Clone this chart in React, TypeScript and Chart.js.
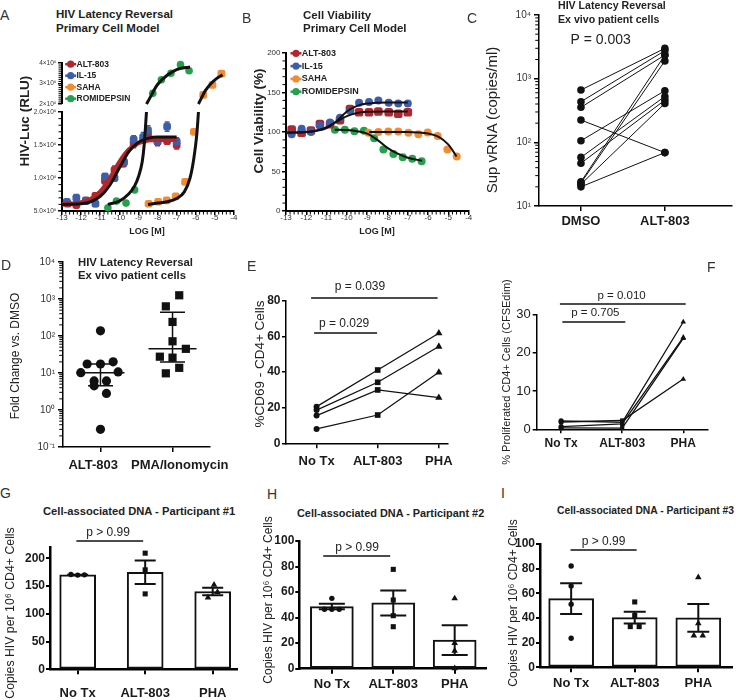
import React, { useEffect, useRef } from 'react';
import { Chart, registerables } from 'chart.js';

Chart.register(...registerables);

const FONT = '"Liberation Sans", Arial, Helvetica, sans-serif';
Chart.defaults.font.family = FONT;

const RED = '#b3262e';
const BLUE = '#3d5da9';
const ORANGE = '#f38b30';
const GREEN = '#25a04c';
const INK = '#111111';

// ---------------- Panel A : HIV latency reversal, primary cell model ----------------
const A_SERIES = ['ALT-803', 'IL-15', 'SAHA', 'ROMIDEPSIN'];
const A_ALT_X = [-12.7, -12.25, -11.75, -11.25, -10.75, -10.25, -9.8, -9.25, -8.75, -8.5, -8.0, -7.5, -7.0];
const A_ALT_Y = [6.1e5, 5.9e5, 6.6e5, 7.3e5, 9.6e5, 1.12e6, 1.22e6, 1.52e6, 1.58e6, 1.66e6, 1.55e6, 1.56e6, 1.5e6];
const A_ALT_ERR = [3e4, 3e4, 4e4, 4e4, 5e4, 6e4, 5e4, 6e4, 5e4, 6e4, 6e4, 5e4, 6e4];
const A_IL15_X = [-12.75, -12.25, -11.75, -11.25, -10.75, -10.25, -9.75, -9.25, -8.75, -8.5, -8.0, -7.5, -7.0];
const A_IL15_Y = [6.4e5, 7.0e5, 6.5e5, 6.1e5, 1.02e6, 1.0e6, 1.24e6, 1.58e6, 1.62e6, 1.72e6, 1.56e6, 1.78e6, 1.55e6];
const A_IL15_ERR = [3e4, 5e4, 3e4, 4e4, 5e4, 5e4, 6e4, 6e4, 7e4, 7e4, 6e4, 7e4, 6e4];
const A_SAHA_X = [-8.47, -7.97, -7.52, -7.05, -6.56, -6.1, -5.61, -5.13, -4.66];
const A_SAHA_Y = [6.1e5, 6.4e5, 6.6e5, 7.2e5, 9.4e5, 1.7e6, 2.44e6, 2.93e6, 3.48e6];
const A_ROMI_X = [-10.6, -10.15, -9.65, -9.2, -8.25, -7.8, -7.3, -6.8, -6.35];
const A_ROMI_Y = [5.5e5, 6.5e5, 6.2e5, 8.2e5, 2.52e6, 3.18e6, 3.5e6, 3.92e6, 3.62e6];
// fitted curves
const A_FIT_ALT_X = [-13, -12, -11.5, -11, -10.5, -10, -9.5, -9, -8.5, -8, -7];
const A_FIT_ALT_Y = [6.0e5, 6.3e5, 6.8e5, 7.9e5, 9.9e5, 1.24e6, 1.43e6, 1.53e6, 1.57e6, 1.58e6, 1.58e6];
const A_FIT_IL15_X = [-13, -12, -11.5, -11, -10.5, -10, -9.5, -9, -8.5, -8, -7];
const A_FIT_IL15_Y = [6.0e5, 6.1e5, 6.4e5, 7.2e5, 8.9e5, 1.15e6, 1.4e6, 1.54e6, 1.6e6, 1.62e6, 1.62e6];
const A_FIT_SAHA_X = [-8.5, -8, -7.5, -7, -6.6, -6.3, -6.1, -5.95, -5.86, -5.7, -5.5, -5.2, -4.9, -4.6];
const A_FIT_SAHA_Y = [6.0e5, 6.2e5, 6.4e5, 6.9e5, 7.9e5, 1.0e6, 1.3e6, 1.65e6, 2.0e6, 2.3e6, 2.65e6, 3.0e6, 3.25e6, 3.42e6];
const A_FIT_ROMI_X = [-10.6, -10, -9.5, -9.2, -9, -8.8, -8.7, -8.58, -8.4, -8.2, -8, -7.5, -7, -6.5, -6.3];
const A_FIT_ROMI_Y = [6.0e5, 6.5e5, 7.6e5, 8.8e5, 1.02e6, 1.25e6, 1.5e6, 2.0e6, 2.3e6, 2.65e6, 2.95e6, 3.4e6, 3.68e6, 3.78e6, 3.8e6];
const A_BREAK = 2e6;
const A_Y_LOW_TICKS = [5e5, 1e6, 1.5e6, 2e6];
const A_Y_LOW_LABELS = ['5.0×10⁵', '1.0×10⁶', '1.5×10⁶', '2.0×10⁶'];
const A_Y_UP_TICKS = [2e6, 3e6, 4e6];
const A_Y_UP_LABELS = ['2×10⁶', '3×10⁶', '4×10⁶'];

const LOG_TICKS = [-13, -12, -11, -10, -9, -8, -7, -6, -5, -4];
const LOG_LABELS = ['-13', '-12', '-11', '-10', '-9', '-8', '-7', '-6', '-5', '-4'];

// ---------------- Panel B : cell viability ----------------
const B_ALT_X = [-12.72, -12.23, -11.77, -11.33, -10.83, -10.34, -9.85, -9.4, -8.91, -8.45, -7.94, -7.47, -7.0];
const B_ALT_Y = [103, 99, 102, 110, 110, 115, 129, 125, 125, 126, 125, 123, 125];
const B_IL15_X = [-12.72, -12.23, -11.77, -11.33, -10.83, -10.34, -9.85, -9.4, -8.91, -8.45, -7.94, -7.47, -7.0];
const B_IL15_Y = [97, 104, 100, 108, 112, 118, 127, 137, 138, 140, 137, 136, 136];
const B_SAHA_X = [-8.94, -8.45, -7.96, -7.47, -6.97, -6.48, -6.02, -5.53, -5.05, -4.59];
const B_SAHA_Y = [99, 100, 100.5, 100.5, 99, 97, 99.5, 95, 78, 69];
const B_ROMI_X = [-10.59, -10.1, -9.63, -9.16, -8.66, -8.2, -7.71, -7.25, -6.78, -6.32];
const B_ROMI_Y = [103, 103, 101, 101.5, 92, 78, 72, 68, 66, 63];
const B_FIT_ALT_X = [-13, -12, -11.5, -11, -10.5, -10, -9.5, -9, -8, -7];
const B_FIT_ALT_Y = [99, 100, 102, 106, 113, 120, 124, 125.5, 126, 126];
const B_FIT_IL15_X = [-13, -12, -11.5, -11, -10.5, -10, -9.5, -9, -8, -7];
const B_FIT_IL15_Y = [99, 100, 101.5, 105, 114, 126, 133, 136, 137.5, 137.5];
const B_FIT_ROMI_X = [-10.6, -10, -9.5, -9, -8.5, -8, -7.5, -7, -6.3];
const B_FIT_ROMI_Y = [103, 102.5, 101, 98, 90, 80, 72.5, 67.5, 63.5];
const B_FIT_SAHA_X = [-8.9, -8, -7, -6.5, -6, -5.5, -5, -4.6];
const B_FIT_SAHA_Y = [100, 100, 100, 99.5, 98, 94, 84, 69];
const B_Y_TICKS = [0, 50, 100, 150, 200];
const B_Y_LABELS = ['0', '50', '100', '150', '200'];

// ---------------- Panel C : sup vRNA, paired ----------------
const C_CATS = ['DMSO', 'ALT-803'];
const C_DMSO = [664, 435, 355, 224, 106, 58, 47, 24, 23, 22, 20];
const C_ALT = [2990, 2750, 2350, 69, 647, 526, 460, 2350, 1900, 408, 69];
const C_Y_TICKS = [10, 100, 1000, 10000];
const C_Y_LABELS = ['10¹', '10²', '10³', '10⁴'];

// ---------------- Panel D : fold change ----------------
// the two category labels sit slightly apart from their ticks in the original (padding spaces)
const D_CATS = ['ALT-803    ', '    PMA/Ionomycin'];
const D_ALT = [138, 17.5, 17.5, 20, 10.2, 10.7, 6.1, 6.1, 4.5, 2.8, 0.3];
const D_PMA = [1260, 633, 240, 72, 45, 27.6, 26, 13.8, 9.8];
const D_Y_TICKS = [0.1, 1, 10, 100, 1000, 10000];
const D_Y_LABELS = ['10⁻¹', '10⁰', '10¹', '10²', '10³', '10⁴'];
// horizontal scatter offsets of the dots (layout only)
const D_ALT_JIT = [0, -0.185, 0, 0.176, -0.273, 0.245, -0.088, 0.083, -0.088, 0.083, 0];
const D_PMA_JIT = [0.093, -0.093, 0, 0, 0.185, -0.176, 0, 0.093, -0.093];

// ---------------- Panel E : %CD69 ----------------
const TX_CATS = ['No Tx', 'ALT-803', 'PHA'];
const E_NOTX = [20.6, 18.7, 15.6, 8.1];
const E_ALT = [41.2, 34.3, 30.0, 15.9];
const E_PHA = [61.9, 54.4, 25.7, 39.9];
const E_Y_TICKS = [0, 20, 40, 60, 80];
const E_Y_LABELS = ['0', '20', '40', '60', '80'];

// ---------------- Panel F : proliferation ----------------
const F_NOTX = [2.2, 1.9, 0.7, 0.35];
const F_ALT = [1.8, 2.3, 1.4, 0.3];
const F_PHA = [28.0, 13.1, 24.0, 23.7];
const F_Y_TICKS = [0, 10, 20, 30];
const F_Y_LABELS = ['0', '10', '20', '30'];

// ---------------- Panels G, H, I : cell-associated DNA ----------------
const G_NOTX = [171, 170, 170.5];
const G_ALT = [209.6, 179.5, 136.1];
const G_PHA = [152.4, 139.2, 129.5];
const G_Y_TICKS = [0, 50, 100, 150, 200];
const G_Y_LABELS = ['0', '50', '100', '150', '200'];
const H_NOTX = [55.1, 46.5, 46.5, 46.5];
const H_ALT = [77.8, 53.8, 41.5, 32.9];
const H_PHA = [55, 20, 14, 0.3];
const I_NOTX = [82.2, 66, 51.1, 23.5];
const I_ALT = [53, 42, 33, 33];
const I_PHA = [73, 35.7, 25.7, 25.7];
const HI_Y_TICKS = [0, 20, 40, 60, 80, 100];
const HI_Y_LABELS = ['0', '20', '40', '60', '80', '100'];
const G_JIT = [[-0.1, 0, 0.1], [0, 0, 0], [0.02, 0.07, -0.07]];
const H_JIT = [[0, -0.12, 0, 0.12], [0, 0, 0, 0], [0, 0, 0, 0]];
const I_JIT = [[0, 0, 0, 0], [0, 0, -0.07, 0.07], [0, 0, -0.07, 0.07]];

// ---------------- helpers ----------------
const mean = (a: number[]) => a.reduce((s, v) => s + v, 0) / a.length;
const sem = (a: number[]) => {
  const m = mean(a);
  return Math.sqrt(a.reduce((s, v) => s + (v - m) * (v - m), 0) / (a.length - 1)) / Math.sqrt(a.length);
};
const quantile = (a: number[], p: number) => {
  const s = [...a].sort((x, y) => x - y);
  const pos = (s.length + 1) * p - 1;
  const lo = Math.max(0, Math.floor(pos));
  const f = pos - lo;
  return s[lo] + (s[Math.min(lo + 1, s.length - 1)] - s[lo]) * f;
};
function stepMinor(min: number, max: number, step: number, major: number) {
  const out: number[] = [];
  const n = Math.round((max - min) / step);
  for (let i = 0; i <= n; i++) {
    const v = min + i * step;
    const q = v / major;
    if (Math.abs(q - Math.round(q)) > 1e-6) out.push(v);
  }
  return out;
}
function logMinor(lo: number, hi: number) {
  const out: number[] = [];
  for (let k = lo; k < hi; k++) for (let m = 2; m <= 9; m++) out.push(m * Math.pow(10, k));
  return out;
}

type AxisOpt = {
  pos: 'left' | 'bottom';
  type?: 'linear' | 'logarithmic';
  min: number;
  max: number;
  size: number;
  ticks: number[];
  labels: string[];
  fontSize: number;
  bold?: boolean;
  tickLen: number;
  pad: number;
  bw: number;
  color?: string;
  stack?: string;
  stackWeight?: number;
  showBorder?: boolean;
  tw?: number;
};
function axis(o: AxisOpt): any {
  const a: any = {
    type: o.type ?? 'linear',
    position: o.pos,
    min: o.min,
    max: o.max,
    offset: false,
    grid: {
      display: true,
      offset: false,
      drawOnChartArea: false,
      drawTicks: true,
      tickLength: o.tickLen,
      tickColor: '#000',
      tickWidth: o.tw ?? 1.5,
      color: '#000',
      lineWidth: o.tw ?? 1.5,
    },
    border: { display: o.showBorder ?? true, color: '#000', width: o.bw },
    ticks: {
      autoSkip: false,
      maxRotation: 0,
      minRotation: 0,
      padding: o.pad,
      color: o.color ?? '#1a1a1a',
      font: { family: FONT, size: o.fontSize, weight: o.bold ? 'bold' : 'normal' },
      callback: (_v: any, i: number) => o.labels[i] ?? '',
    },
    afterBuildTicks: (s: any) => {
      s.ticks = o.ticks.map((v) => ({ value: v }));
    },
    afterFit: (s: any) => {
      if (o.pos === 'bottom') s.height = o.size;
      else s.width = o.size;
      s.paddingLeft = 0;
      s.paddingRight = 0;
      s.paddingTop = 0;
      s.paddingBottom = 0;
    },
  };
  if (o.stack) {
    a.stack = o.stack;
    a.stackWeight = o.stackWeight;
  }
  return a;
}

function baseOptions(padTop: number, padRight: number, scales: any) {
  return {
    responsive: false,
    animation: false,
    devicePixelRatio: 1,
    events: [],
    layout: { padding: { top: padTop, right: padRight, left: 0, bottom: 0 } },
    plugins: { legend: { display: false }, tooltip: { enabled: false }, title: { display: false } },
    scales,
  };
}

// ---------- plugins ----------
function minorTicksPlugin(specs: { id: string; values: number[]; len: number; off: number; lw?: number }[]) {
  return {
    id: 'minorTicks',
    afterDraw(chart: any) {
      const ctx = chart.ctx;
      ctx.save();
      ctx.strokeStyle = '#000';
      for (const sp of specs) {
        const s = chart.scales[sp.id];
        if (!s) continue;
        ctx.lineWidth = sp.lw ?? 1;
        ctx.beginPath();
        for (const v of sp.values) {
          if (v < s.min - 1e-9 || v > s.max + 1e-9) continue;
          const p = s.getPixelForValue(v);
          if (s.isHorizontal()) {
            const y0 = s.top + sp.off;
            ctx.moveTo(p, y0);
            ctx.lineTo(p, y0 + sp.len);
          } else {
            const x0 = s.right - sp.off;
            ctx.moveTo(x0, p);
            ctx.lineTo(x0 - sp.len, p);
          }
        }
        ctx.stroke();
      }
      ctx.restore();
    },
  };
}

type Ann = { x1?: number; x2?: number; y: number; text: string; tx: number; dy: number; size: number; lw?: number };
function annotPlugin(items: Ann[]) {
  return {
    id: 'annot',
    afterDraw(chart: any) {
      const { ctx, scales } = chart;
      const xs = scales.x;
      const ys = scales.y;
      ctx.save();
      for (const it of items) {
        const py = ys.getPixelForValue(it.y);
        if (it.x1 !== undefined && it.x2 !== undefined) {
          ctx.strokeStyle = INK;
          ctx.lineWidth = it.lw ?? 1.5;
          ctx.beginPath();
          ctx.moveTo(xs.getPixelForValue(it.x1), py);
          ctx.lineTo(xs.getPixelForValue(it.x2), py);
          ctx.stroke();
        }
        ctx.fillStyle = '#222';
        ctx.font = `${it.size}px ${FONT}`;
        ctx.textAlign = 'center';
        ctx.textBaseline = 'middle';
        ctx.fillText(it.text, xs.getPixelForValue(it.tx), py - it.dy);
      }
      ctx.restore();
    },
  };
}

function summaryPlugin(groups: { x: number; mid: number; lo: number; hi: number }[], midW: number, capW: number, lw: number) {
  return {
    id: 'summary',
    afterDatasetsDraw(chart: any) {
      const { ctx } = chart;
      const xs = chart.scales.x;
      const ys = chart.scales.y;
      ctx.save();
      ctx.strokeStyle = INK;
      ctx.lineWidth = lw;
      for (const g of groups) {
        const px = xs.getPixelForValue(g.x);
        const pm = ys.getPixelForValue(g.mid);
        const pl = ys.getPixelForValue(g.lo);
        const ph = ys.getPixelForValue(g.hi);
        ctx.beginPath();
        ctx.moveTo(px, pl);
        ctx.lineTo(px, ph);
        ctx.moveTo(px - capW / 2, pl);
        ctx.lineTo(px + capW / 2, pl);
        ctx.moveTo(px - capW / 2, ph);
        ctx.lineTo(px + capW / 2, ph);
        if (midW) {
          ctx.moveTo(px - midW / 2, pm);
          ctx.lineTo(px + midW / 2, pm);
        }
        ctx.stroke();
      }
      ctx.restore();
    },
  };
}

const errorPlugin = {
  id: 'pointErrors',
  beforeDatasetsDraw(chart: any) {
    const ctx = chart.ctx;
    ctx.save();
    chart.data.datasets.forEach((d: any, i: number) => {
      if (!d.errColor) return;
      const meta = chart.getDatasetMeta(i);
      const ys = chart.scales[meta.yAxisID];
      ctx.strokeStyle = d.errColor;
      ctx.lineWidth = 1.5;
      d.data.forEach((p: any, j: number) => {
        if (!p.e) return;
        const el = meta.data[j];
        if (!el) return;
        const y1 = ys.getPixelForValue(p.y + p.e);
        const y2 = ys.getPixelForValue(p.y - p.e);
        ctx.beginPath();
        ctx.moveTo(el.x, y1);
        ctx.lineTo(el.x, y2);
        ctx.moveTo(el.x - 2.5, y1);
        ctx.lineTo(el.x + 2.5, y1);
        ctx.moveTo(el.x - 2.5, y2);
        ctx.lineTo(el.x + 2.5, y2);
        ctx.stroke();
      });
    });
    ctx.restore();
  },
};

function legendPlugin(items: { label: string; color: string }[], o: { dx: number; dy: number; gap: number; tdx: number; size: number }) {
  return {
    id: 'miniLegend',
    afterDraw(chart: any) {
      const { ctx, chartArea } = chart;
      ctx.save();
      ctx.font = `bold ${o.size}px ${FONT}`;
      ctx.textBaseline = 'middle';
      ctx.textAlign = 'left';
      items.forEach((it, i) => {
        const cx = chartArea.left + o.dx;
        const cy = chartArea.top + o.dy + i * o.gap;
        ctx.strokeStyle = it.color;
        ctx.lineWidth = 2.5;
        ctx.beginPath();
        ctx.moveTo(cx - 5.5, cy);
        ctx.lineTo(cx + 5.5, cy);
        ctx.stroke();
        ctx.fillStyle = it.color;
        ctx.beginPath();
        ctx.arc(cx, cy, 3.6, 0, Math.PI * 2);
        ctx.fill();
        ctx.fillStyle = '#222';
        ctx.fillText(it.label, chartArea.left + o.tdx, cy);
      });
      ctx.restore();
    },
  };
}

const A_UP_MIN_VISIBLE = 2e6;
const upperAxisPlugin = {
  id: 'upperAxis',
  afterDraw(chart: any) {
    const s = chart.scales.y2;
    if (!s) return;
    const ctx = chart.ctx;
    const x = chart.chartArea.left;
    ctx.save();
    ctx.strokeStyle = '#000';
    ctx.lineWidth = 2;
    ctx.beginPath();
    ctx.moveTo(x, s.getPixelForValue(A_UP_MIN_VISIBLE));
    ctx.lineTo(x, s.getPixelForValue(4e6) - 1);
    ctx.stroke();
    ctx.restore();
  },
};

// ---------- dataset builders ----------
type P = { x: number; y: number; e?: number };
const pts = (xs: number[], ys: number[], es?: number[]): P[] => xs.map((x, i) => ({ x, y: ys[i], e: es ? es[i] : undefined }));

function curveDs(data: P[], color: string, width: number, axisId: string, order: number) {
  return {
    type: 'line',
    data,
    yAxisID: axisId,
    borderColor: color,
    borderWidth: width,
    pointRadius: 0,
    showLine: true,
    cubicInterpolationMode: 'monotone',
    fill: false,
    order,
    clip: false,
  };
}
function pointDs(data: P[], color: string, style: string, r: number, axisId: string, order: number) {
  return {
    type: 'line',
    data,
    yAxisID: axisId,
    showLine: false,
    pointStyle: style,
    pointRadius: r,
    pointBackgroundColor: color,
    pointBorderColor: color,
    pointBorderWidth: 0,
    order,
    clip: false,
    errColor: color,
  };
}

// ---------------- chart factories ----------------
function makeA() {
  const ds: any[] = [];
  const addCurve = (xs: number[], ys: number[], color: string, w: number, order: number) => {
    const all = pts(xs, ys);
    const low = all.filter((p) => p.y <= A_BREAK);
    const up = all.filter((p) => p.y >= A_BREAK);
    if (low.length) ds.push(curveDs(low, color, w, 'y', order));
    if (up.length) ds.push(curveDs(up, color, w, 'y2', order));
  };
  const addPts = (xs: number[], ys: number[], es: number[] | undefined, color: string, style: string, r: number) => {
    const all = pts(xs, ys, es);
    const low = all.filter((p) => p.y <= A_BREAK);
    const up = all.filter((p) => p.y > A_BREAK);
    if (low.length) ds.push(pointDs(low, color, style, r, 'y', 2));
    if (up.length) ds.push(pointDs(up, color, style, r, 'y2', 2));
  };
  addCurve(A_FIT_IL15_X, A_FIT_IL15_Y, INK, 3, 0);
  addCurve(A_FIT_ALT_X, A_FIT_ALT_Y, RED, 4.5, 1);
  addCurve(A_FIT_ROMI_X, A_FIT_ROMI_Y, INK, 3, 0);
  addCurve(A_FIT_SAHA_X, A_FIT_SAHA_Y, INK, 3, 0);
  addPts(A_IL15_X, A_IL15_Y, A_IL15_ERR, BLUE, 'rectRounded', 4.5);
  addPts(A_ALT_X, A_ALT_Y, A_ALT_ERR, RED, 'rectRounded', 4.5);
  addPts(A_SAHA_X, A_SAHA_Y, undefined, ORANGE, 'rectRounded', 4.5);
  addPts(A_ROMI_X, A_ROMI_Y, undefined, GREEN, 'circle', 3.8);

  const scales = {
    x: axis({ pos: 'bottom', min: -13, max: -4, size: 34, ticks: LOG_TICKS, labels: LOG_LABELS, fontSize: 8, tickLen: 4, pad: -2, bw: 2, color: '#333' }),
    y: axis({ pos: 'left', min: 5e5, max: 2e6, size: 62, ticks: A_Y_LOW_TICKS, labels: A_Y_LOW_LABELS, fontSize: 6.5, tickLen: 4, pad: 1.5, bw: 2, color: '#333', stack: 'a', stackWeight: 99 }),
    y2: axis({ pos: 'left', min: 1.61e6, max: 4e6, size: 62, ticks: A_Y_UP_TICKS, labels: A_Y_UP_LABELS, fontSize: 6.5, tickLen: 4, pad: 1.5, bw: 2, color: '#333', stack: 'a', stackWeight: 49, showBorder: false }),
  };
  return {
    type: 'line',
    data: { datasets: ds },
    options: baseOptions(23, 11, scales),
    plugins: [
      errorPlugin,
      upperAxisPlugin,
      minorTicksPlugin([
        { id: 'x', values: stepMinor(-13, -4, 0.2, 1), len: 2.5, off: 1 },
        { id: 'y', values: stepMinor(5e5, 2e6, 1e5, 5e5), len: 2.5, off: 1 },
        { id: 'y2', values: stepMinor(2e6, 4e6, 1e5, 1e6), len: 2.5, off: 1 },
      ]),
      legendPlugin(
        A_SERIES.map((label, i) => ({ label, color: [RED, BLUE, ORANGE, GREEN][i] })),
        { dx: 8.7, dy: 1.2, gap: 11.5, tdx: 14.5, size: 8.5 }
      ),
    ],
  };
}

function makeB() {
  const ds: any[] = [
    curveDs(pts(B_FIT_ALT_X, B_FIT_ALT_Y), INK, 2, 'y', 0),
    curveDs(pts(B_FIT_IL15_X, B_FIT_IL15_Y), INK, 2, 'y', 0),
    curveDs(pts(B_FIT_ROMI_X, B_FIT_ROMI_Y), INK, 2, 'y', 0),
    curveDs(pts(B_FIT_SAHA_X, B_FIT_SAHA_Y), INK, 2, 'y', 0),
    pointDs(pts(B_IL15_X, B_IL15_Y), BLUE, 'circle', 4, 'y', 2),
    pointDs(pts(B_ALT_X, B_ALT_Y), RED, 'rectRounded', 5, 'y', 2),
    pointDs(pts(B_SAHA_X, B_SAHA_Y), ORANGE, 'circle', 4, 'y', 2),
    pointDs(pts(B_ROMI_X, B_ROMI_Y), GREEN, 'circle', 4, 'y', 2),
  ];
  const scales = {
    x: axis({ pos: 'bottom', min: -13, max: -4, size: 34, ticks: LOG_TICKS, labels: LOG_LABELS, fontSize: 8, tickLen: 4, pad: -2, bw: 2, color: '#333' }),
    y: axis({ pos: 'left', min: 0, max: 200, size: 46, ticks: B_Y_TICKS, labels: B_Y_LABELS, fontSize: 8, tickLen: 4, pad: 1.5, bw: 2, color: '#333' }),
  };
  return {
    type: 'line',
    data: { datasets: ds },
    options: baseOptions(13, 21.3, scales),
    plugins: [
      minorTicksPlugin([
        { id: 'x', values: stepMinor(-13, -4, 0.2, 1), len: 2.5, off: 1 },
        { id: 'y', values: stepMinor(0, 200, 10, 50), len: 2.5, off: 1 },
      ]),
      legendPlugin(
        A_SERIES.map((label, i) => ({ label, color: [RED, BLUE, ORANGE, GREEN][i] })),
        { dx: 10, dy: 0.3, gap: 12.8, tdx: 15.7, size: 9 }
      ),
    ],
  };
}

function makeC() {
  const ds = C_DMSO.map((v, i) => ({
    type: 'line',
    data: [
      { x: 0, y: v },
      { x: 1, y: C_ALT[i] },
    ],
    borderColor: INK,
    borderWidth: 1,
    pointRadius: 3.8,
    pointBackgroundColor: INK,
    pointBorderColor: INK,
    pointBorderWidth: 0,
    clip: false,
  }));
  const scales = {
    x: axis({ pos: 'bottom', min: -0.5, max: 1.8, size: 29, ticks: [0, 1], labels: C_CATS, fontSize: 13, bold: true, tickLen: 5, pad: 3, bw: 1.5 }),
    y: axis({ pos: 'left', type: 'logarithmic', min: 10, max: 10000, size: 59, ticks: C_Y_TICKS, labels: C_Y_LABELS, fontSize: 10, tickLen: 5, pad: 3, bw: 1.5, color: '#333' }),
  };
  return {
    type: 'line',
    data: { datasets: ds },
    options: baseOptions(15, 2, scales),
    plugins: [
      minorTicksPlugin([{ id: 'y', values: logMinor(1, 4), len: 3, off: 0.75 }]),
      annotPlugin([{ y: 4046, text: 'P = 0.003', tx: 0.235, dy: 0, size: 14 }]),
    ],
  };
}

function makeD() {
  const ds = [
    {
      type: 'line',
      data: D_ALT.map((v, i) => ({ x: 0 + D_ALT_JIT[i], y: v })),
      showLine: false,
      pointStyle: 'circle',
      pointRadius: 4.6,
      pointBackgroundColor: INK,
      pointBorderColor: INK,
      pointBorderWidth: 0,
      clip: false,
    },
    {
      type: 'line',
      data: D_PMA.map((v, i) => ({ x: 1 + D_PMA_JIT[i], y: v })),
      showLine: false,
      pointStyle: 'rect',
      pointRadius: 5.8,
      pointBackgroundColor: INK,
      pointBorderColor: INK,
      pointBorderWidth: 0,
      clip: false,
    },
  ];
  const groups = [D_ALT, D_PMA].map((g, i) => ({ x: i, mid: quantile(g, 0.5), lo: quantile(g, 0.25), hi: quantile(g, 0.75) }));
  const scales = {
    x: axis({ pos: 'bottom', min: -0.52, max: 1.52, size: 33, ticks: [0, 1], labels: D_CATS, fontSize: 13, bold: true, tickLen: 5, pad: 6, bw: 1.5 }),
    y: axis({ pos: 'left', type: 'logarithmic', min: 0.1, max: 10000, size: 63, ticks: D_Y_TICKS, labels: D_Y_LABELS, fontSize: 10, tickLen: 5, pad: 3, bw: 1.5, color: '#333' }),
  };
  return {
    type: 'line',
    data: { datasets: ds },
    options: baseOptions(22, 30, scales),
    plugins: [minorTicksPlugin([{ id: 'y', values: logMinor(-1, 4), len: 3, off: 0.75 }]), summaryPlugin(groups, 48, 25, 1.5)],
  };
}

function pairedDatasets(a: number[], b: number[], c: number[], radii: number[], lw: number) {
  return a.map((v, i) => ({
    type: 'line',
    data: [
      { x: 0, y: v },
      { x: 1, y: b[i] },
      { x: 2, y: c[i] },
    ],
    borderColor: INK,
    borderWidth: lw,
    pointStyle: ['circle', 'rect', 'triangle'],
    pointRadius: radii,
    pointBackgroundColor: INK,
    pointBorderColor: INK,
    pointBorderWidth: 0,
    clip: false,
  }));
}

function makeE() {
  const scales = {
    x: axis({ pos: 'bottom', min: -0.5, max: 2.15, size: 36.7, ticks: [0, 1, 2], labels: TX_CATS, fontSize: 13, bold: true, tickLen: 5, pad: 5, bw: 1.5 }),
    y: axis({ pos: 'left', min: 0, max: 80, size: 46, ticks: E_Y_TICKS, labels: E_Y_LABELS, fontSize: 12, bold: true, tickLen: 4, pad: 1.5, bw: 1.5 }),
  };
  return {
    type: 'line',
    data: { datasets: pairedDatasets(E_NOTX, E_ALT, E_PHA, [3, 4, 4.2], 1.3) },
    options: baseOptions(51, 42, scales),
    plugins: [
      annotPlugin([
        { x1: -0.09, x2: 1.98, y: 81.7, text: 'p = 0.039', tx: 0.71, dy: 11, size: 12 },
        { x1: -0.04, x2: 0.99, y: 62, text: 'p = 0.029', tx: 0.45, dy: 9, size: 12 },
      ]),
    ],
  };
}

function makeF() {
  const scales = {
    x: axis({ pos: 'bottom', min: -0.4, max: 2.4, size: 50.7, ticks: [0, 1, 2], labels: TX_CATS, fontSize: 12, bold: true, tickLen: 4, pad: 3, bw: 1.5 }),
    y: axis({ pos: 'left', min: 0, max: 30, size: 46.7, ticks: F_Y_TICKS, labels: F_Y_LABELS, fontSize: 13, tickLen: 4, pad: 2, bw: 1.5 }),
  };
  return {
    type: 'line',
    data: { datasets: pairedDatasets(F_NOTX, F_ALT, F_PHA, [2.6, 3, 3.2], 1.3) },
    options: baseOptions(44.3, 28.3, scales),
    plugins: [
      annotPlugin([
        { x1: -0.02, x2: 2.04, y: 32.7, text: 'p = 0.010', tx: 0.99, dy: 8, size: 11.5 },
        { x1: 0.02, x2: 1.05, y: 28, text: 'p = 0.705', tx: 0.56, dy: 9, size: 11.5 },
      ]),
    ],
  };
}

function makeBars(
  groups: number[][],
  jit: number[][],
  o: { xmin: number; xmax: number; ymax: number; yTicks: number[]; yLabels: string[]; ySize: number; xSize: number; xPad: number; padTop: number; padRight: number; barW: number; capW: number; p: Ann }
) {
  const styles = ['circle', 'rect', 'triangle'];
  const radii = [2.7, 3.6, 3.8];
  const ds: any[] = [
    {
      type: 'bar',
      data: groups.map((g, i) => ({ x: i, y: mean(g) })),
      backgroundColor: '#ffffff',
      borderColor: INK,
      borderWidth: 2,
      borderSkipped: false,
      barThickness: o.barW,
      order: 5,
    },
  ];
  groups.forEach((g, gi) => {
    ds.push({
      type: 'scatter',
      data: g.map((v, j) => ({ x: gi + jit[gi][j], y: v })),
      pointStyle: styles[gi],
      pointRadius: radii[gi],
      pointBackgroundColor: INK,
      pointBorderColor: INK,
      pointBorderWidth: 0,
      order: 1,
      clip: false,
    });
  });
  const summary = groups.map((g, i) => {
    const m = mean(g);
    const e = sem(g);
    return { x: i, mid: m, lo: m - e, hi: m + e };
  });
  const scales = {
    x: axis({ pos: 'bottom', min: o.xmin, max: o.xmax, size: o.xSize, ticks: [0, 1, 2], labels: TX_CATS, fontSize: 13, bold: true, tickLen: 5, pad: o.xPad, bw: 2.5, tw: 2 }),
    y: axis({ pos: 'left', min: 0, max: o.ymax, size: o.ySize, ticks: o.yTicks, labels: o.yLabels, fontSize: 12, bold: true, tickLen: 4, pad: 1, bw: 2.5, tw: 2 }),
  };
  return {
    type: 'bar',
    data: { datasets: ds },
    options: baseOptions(o.padTop, o.padRight, scales),
    plugins: [summaryPlugin(summary, 0, o.capW, 2), annotPlugin([o.p])],
  };
}

const makeG = () =>
  makeBars([G_NOTX, G_ALT, G_PHA], G_JIT, {
    xmin: -0.41, xmax: 2.36, ymax: 220, yTicks: G_Y_TICKS, yLabels: G_Y_LABELS, ySize: 50, xSize: 30.7, xPad: 11, padTop: 27.4, padRight: 8, barW: 36, capW: 21,
    p: { x1: -0.02, x2: 0.97, y: 231.6, text: 'p > 0.99', tx: 0.45, dy: 8.5, size: 12 },
  });
const makeH = () =>
  makeBars([H_NOTX, H_ALT, H_PHA], H_JIT, {
    xmin: -0.53, xmax: 2.51, ymax: 100, yTicks: HI_Y_TICKS, yLabels: HI_Y_LABELS, ySize: 49.3, xSize: 31.3, xPad: 3, padTop: 21, padRight: 0, barW: 43, capW: 26,
    p: { x1: -0.14, x2: 0.95, y: 88.2, text: 'p > 0.99', tx: 0.41, dy: 8.5, size: 12 },
  });
const makeI = () =>
  makeBars([I_NOTX, I_ALT, I_PHA], I_JIT, {
    xmin: -0.49, xmax: 2.53, ymax: 100, yTicks: HI_Y_TICKS, yLabels: HI_Y_LABELS, ySize: 50, xSize: 32.7, xPad: 3, padTop: 24, padRight: 0, barW: 45, capW: 22,
    p: { x1: -0.01, x2: 1.03, y: 95.1, text: 'p > 0.99', tx: 0.51, dy: 8.5, size: 12 },
  });

// ---------------- React ----------------
function Panel({ box, make }: { box: [number, number, number, number]; make: () => any }) {
  const ref = useRef<HTMLCanvasElement>(null);
  useEffect(() => {
    const chart = new Chart(ref.current as HTMLCanvasElement, make());
    return () => chart.destroy();
  }, []);
  const [l, t, w, h] = box;
  return <canvas ref={ref} width={w} height={h} style={{ position: 'absolute', left: l, top: t, width: w, height: h }} />;
}

type T = { t: string; x: number; y: number; s: number; b?: boolean; r?: boolean; a?: 'start' | 'middle'; c?: string };
function Txt({ t, x, y, s, b, r, a, c }: T) {
  const tx = a === 'start' ? '0' : '-50%';
  return (
    <div
      style={{
        position: 'absolute',
        left: x,
        top: y,
        fontFamily: FONT,
        fontSize: s,
        fontWeight: b ? 700 : 400,
        color: c ?? '#222',
        whiteSpace: 'nowrap',
        lineHeight: 1,
        transform: `translate(${tx}, -50%)${r ? ' rotate(-90deg)' : ''}`,
        transformOrigin: 'center center',
      }}
    >
      {t}
    </div>
  );
}

const LETTERS: T[] = [
  { t: 'A', x: 0, y: 15, s: 14, a: 'start', c: '#333' },
  { t: 'B', x: 242, y: 18, s: 14, a: 'start', c: '#333' },
  { t: 'C', x: 467, y: 18, s: 14, a: 'start', c: '#333' },
  { t: 'D', x: 1, y: 265, s: 14, a: 'start', c: '#333' },
  { t: 'E', x: 247, y: 266, s: 14, a: 'start', c: '#333' },
  { t: 'F', x: 707, y: 267, s: 14, a: 'start', c: '#333' },
  { t: 'G', x: 0, y: 493, s: 14, a: 'start', c: '#333' },
  { t: 'H', x: 267, y: 494, s: 14, a: 'start', c: '#333' },
  { t: 'I', x: 501, y: 493, s: 14, a: 'start', c: '#333' },
];
const TITLES: T[] = [
  { t: 'HIV Latency Reversal', x: 56, y: 15.3, s: 11.5, b: true, a: 'start' },
  { t: 'Primary Cell Model', x: 56, y: 28.5, s: 11.5, b: true, a: 'start' },
  { t: 'Cell Viability', x: 303, y: 15.5, s: 11.5, b: true, a: 'start' },
  { t: 'Primary Cell Model', x: 303, y: 29, s: 11.5, b: true, a: 'start' },
  { t: 'HIV Latency Reversal', x: 558, y: 4.5, s: 10.6, b: true, a: 'start' },
  { t: 'Ex vivo patient cells', x: 558, y: 18.5, s: 10.6, b: true, a: 'start' },
  { t: 'HIV Latency Reversal', x: 78, y: 262.5, s: 11.3, b: true, a: 'start' },
  { t: 'Ex vivo patient cells', x: 78, y: 275.5, s: 11.3, b: true, a: 'start' },
  { t: 'Cell-associated DNA - Participant #1', x: 43, y: 512, s: 11.2, b: true, a: 'start' },
  { t: 'Cell-associated DNA - Participant #2', x: 297, y: 513, s: 10.9, b: true, a: 'start' },
  { t: 'Cell-associated DNA - Participant #3', x: 557, y: 511, s: 10.3, b: true, a: 'start' },
];
const AXIS_TITLES: T[] = [
  { t: 'HIV-Luc (RLU)', x: 25.3, y: 121, s: 13.5, b: true, r: true },
  { t: 'LOG [M]', x: 147, y: 231, s: 9, b: true },
  { t: 'Cell Viability (%)', x: 259, y: 121, s: 13.5, b: true, r: true },
  { t: 'LOG [M]', x: 377, y: 231, s: 9, b: true },
  { t: 'Sup vRNA (copies/ml)', x: 491, y: 119.5, s: 15, r: true },
  { t: 'Fold Change vs. DMSO', x: 15, y: 356, s: 12, r: true },
  { t: '%CD69 - CD4+ Cells', x: 259.5, y: 363.5, s: 13.5, r: true },
  { t: '% Proliferated CD4+ Cells (CFSEdim)', x: 506, y: 371.5, s: 11, r: true },
  { t: 'Copies HIV per 10⁶ CD4+ Cells', x: 10, y: 613, s: 12.3, r: true },
  { t: 'Copies HIV per 10⁶ CD4+ Cells', x: 268, y: 600, s: 12, r: true },
  { t: 'Copies HIV per 10⁶ CD4+ Cells', x: 513, y: 603, s: 12, r: true },
];

export default function App() {
  return (
    <div style={{ position: 'absolute', left: 0, top: 0, width: 736, height: 700, background: '#fff', overflow: 'hidden' }}>
      <Panel box={[0, 40, 245, 205]} make={makeA} />
      <Panel box={[240, 40, 250, 205]} make={makeB} />
      <Panel box={[480, 0, 256, 235]} make={makeC} />
      <Panel box={[0, 240, 240, 240]} make={makeD} />
      <Panel box={[240, 250, 250, 230]} make={makeE} />
      <Panel box={[490, 270, 246, 210]} make={makeF} />
      <Panel box={[0, 520, 245, 180]} make={makeG} />
      <Panel box={[250, 520, 240, 180]} make={makeH} />
      <Panel box={[490, 520, 246, 180]} make={makeI} />
      {[...LETTERS, ...TITLES, ...AXIS_TITLES].map((d, i) => (
        <Txt key={i} {...d} />
      ))}
    </div>
  );
}
